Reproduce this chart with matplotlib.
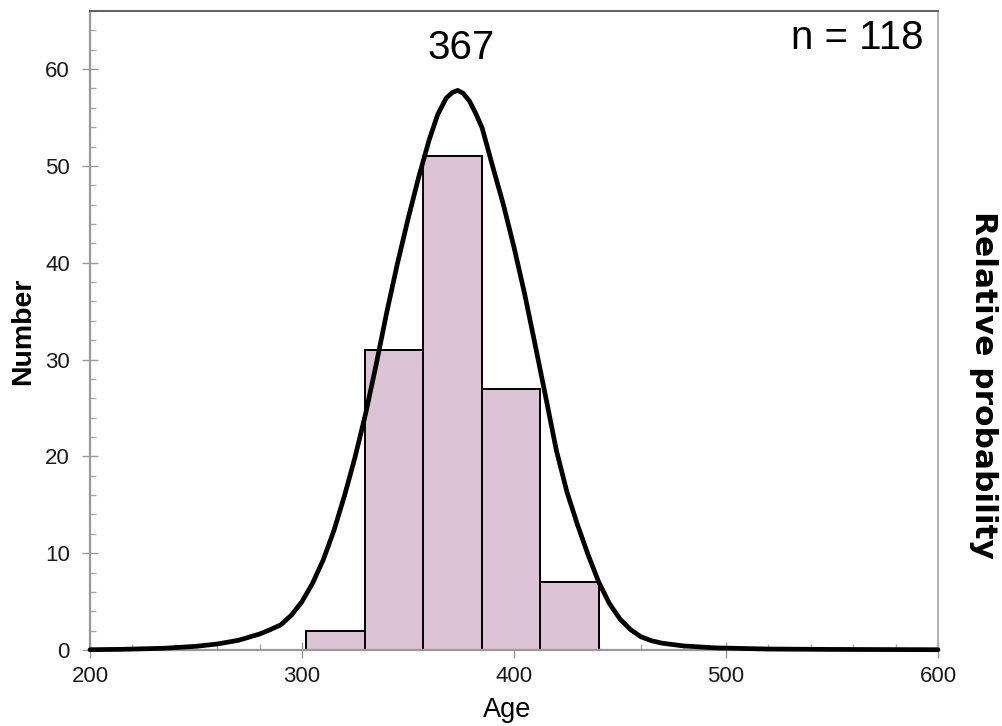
import matplotlib
matplotlib.use("Agg")
import matplotlib.pyplot as plt
from matplotlib.ticker import MultipleLocator

plt.rcParams['font.family'] = ['Liberation Sans', 'DejaVu Sans']

# histogram of ages
bin_edges = [302, 329.6, 357.2, 384.8, 412.4, 440]
counts = [2, 31, 51, 27, 7]

# relative probability curve, scaled to the count axis
curve_x = [200, 215, 235, 250, 260, 270, 280, 285, 290, 295, 300, 305, 310,
           315, 320, 325, 330, 335, 340, 345, 350, 355, 360, 364, 368, 371,
           373.5, 376, 379, 382, 385, 390, 395, 400, 405, 410, 415, 420, 425,
           430, 435, 440, 445, 450, 455, 460, 465, 470, 480, 495, 520, 550,
           600]
curve_y = [0.03, 0.07, 0.18, 0.38, 0.62, 1.0, 1.65, 2.1, 2.6, 3.6, 5.0, 6.9,
           9.3, 12.3, 15.9, 19.9, 24.4, 29.5, 34.9, 39.9, 44.5, 48.8, 52.7,
           55.3, 57.0, 57.6, 57.8, 57.5, 56.7, 55.4, 53.9, 49.9, 46.0, 41.6,
           36.8, 31.5, 26.1, 20.6, 16.3, 12.9, 9.8, 7.0, 4.8, 3.2, 2.1, 1.35,
           0.95, 0.7, 0.42, 0.22, 0.1, 0.06, 0.03]

peak_label = "367"
n_total = sum(counts)

fig = plt.figure(figsize=(10.03, 7.26), dpi=100)
ax = fig.add_axes([90 / 1003, 1 - 650 / 726, 848 / 1003, 639 / 726])

widths = [b - a for a, b in zip(bin_edges[:-1], bin_edges[1:])]
ax.bar(bin_edges[:-1], counts, width=widths, align='edge', color='#dcc4d6',
       edgecolor='black', linewidth=1.4, zorder=2)
ax.plot(curve_x, curve_y, color='black', lw=3.4, zorder=3,
        solid_capstyle='round', solid_joinstyle='round', clip_on=False)

ax.set_xlim(200, 600)
ax.set_ylim(0, 66)
ax.set_xticks([200, 300, 400, 500, 600])
ax.xaxis.set_minor_locator(MultipleLocator(20))
ax.set_yticks(range(0, 61, 10))
ax.yaxis.set_minor_locator(MultipleLocator(2))

ax.tick_params(which='major', direction='inout', length=11, width=1,
               color='#999999', labelsize=16, labelcolor='#1a1a1a')
ax.tick_params(which='minor', direction='in', length=4.5, width=1,
               color='#aaaaaa')
ax.tick_params(axis='y', which='major', pad=9)
ax.tick_params(axis='x', which='major', pad=6)

for side in ['left', 'bottom']:
    ax.spines[side].set_color('#999999')
    ax.spines[side].set_linewidth(1.6)
ax.spines['top'].set_color('#555555')
ax.spines['top'].set_linewidth(1.3)
ax.spines['right'].set_color('#b0b0b0')
ax.spines['right'].set_linewidth(1.3)

ax.text(375, 62.2, peak_label, fontsize=29, ha='center', va='center')
ax.text(0.983, 0.958, f"n = {n_total}", fontsize=29, ha='right',
        va='center', transform=ax.transAxes)

fig.text(507 / 1003, 1 - 710 / 726, "Age", fontsize=19.5, ha='center',
         va='center')
fig.text(23 / 1003, 1 - 331 / 726, "Number", fontsize=20.5,
         fontweight='bold', rotation=90, ha='center', va='center')
fig.text(984 / 1003, 1 - 385 / 726, "Relative probability", fontsize=22.5,
         fontweight='bold', family='DejaVu Sans', rotation=-90,
         ha='center', va='center')

fig.savefig("out.png", dpi=100)
